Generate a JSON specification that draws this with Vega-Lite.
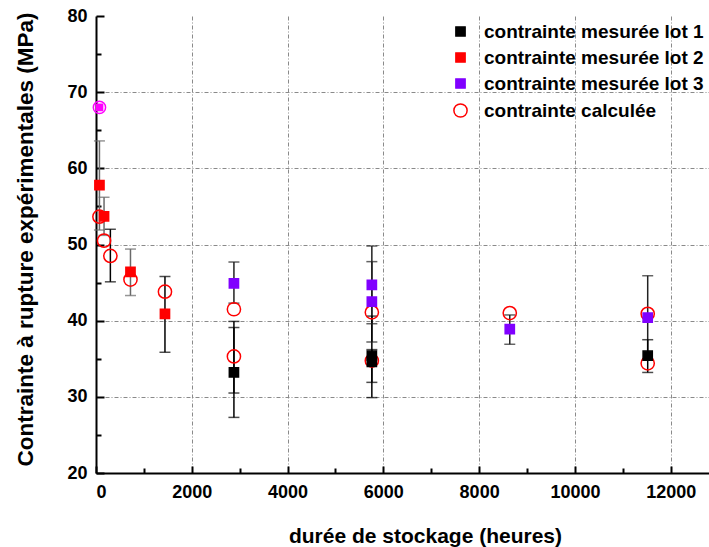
{
  "$schema": "https://vega.github.io/schema/vega-lite/v6.json",
  "width": 613,
  "height": 457,
  "autosize": {"type": "none"},
  "padding": {"left": 96, "top": 16, "right": 0, "bottom": 74},
  "background": "white",
  "config": {
    "view": {"stroke": null},
    "font": "Liberation Sans",
    "legend": {"labelFont": "Liberation Sans", "labelFontWeight": "bold", "labelFontSize": 19, "labelColor": "#000000", "labelOffset": 14, "rowPadding": 6, "symbolStrokeWidth": 1.5, "labelLimit": 400}
  },
  "datasets": {
    "pts": [
      {"t": 72, "v": 53.65, "series": "contrainte calculée"},
      {"t": 168, "v": 50.5, "series": "contrainte calculée"},
      {"t": 300, "v": 48.5, "series": "contrainte calculée"},
      {"t": 720, "v": 45.4, "series": "contrainte calculée"},
      {"t": 1440, "v": 43.8, "series": "contrainte calculée"},
      {"t": 2880, "v": 41.5, "series": "contrainte calculée"},
      {"t": 2880, "v": 35.3, "series": "contrainte calculée"},
      {"t": 5760, "v": 41.1, "series": "contrainte calculée"},
      {"t": 5760, "v": 34.75, "series": "contrainte calculée"},
      {"t": 8640, "v": 41.0, "series": "contrainte calculée"},
      {"t": 11520, "v": 40.9, "series": "contrainte calculée"},
      {"t": 11520, "v": 34.4, "series": "contrainte calculée"},
      {"t": 2880, "v": 33.2, "series": "contrainte mesurée lot 1"},
      {"t": 5760, "v": 35.4, "series": "contrainte mesurée lot 1"},
      {"t": 5760, "v": 34.6, "series": "contrainte mesurée lot 1"},
      {"t": 11520, "v": 35.4, "series": "contrainte mesurée lot 1"},
      {"t": 72, "v": 57.8, "series": "contrainte mesurée lot 2"},
      {"t": 168, "v": 53.7, "series": "contrainte mesurée lot 2"},
      {"t": 720, "v": 46.4, "series": "contrainte mesurée lot 2"},
      {"t": 1440, "v": 40.9, "series": "contrainte mesurée lot 2"},
      {"t": 2880, "v": 44.9, "series": "contrainte mesurée lot 3"},
      {"t": 5760, "v": 44.7, "series": "contrainte mesurée lot 3"},
      {"t": 5760, "v": 42.5, "series": "contrainte mesurée lot 3"},
      {"t": 8640, "v": 38.9, "series": "contrainte mesurée lot 3"},
      {"t": 11520, "v": 40.4, "series": "contrainte mesurée lot 3"}
    ],
    "bars": [
      {"t": 72, "lo": 51.9, "hi": 63.6, "series": "contrainte mesurée lot 2"},
      {"t": 168, "lo": 51.2, "hi": 56.2, "series": "contrainte mesurée lot 2"},
      {"t": 300, "lo": 45.1, "hi": 52.0, "series": "contrainte mesurée lot 1"},
      {"t": 720, "lo": 43.3, "hi": 49.4, "series": "contrainte mesurée lot 2"},
      {"t": 1440, "lo": 35.85, "hi": 45.8, "series": "contrainte mesurée lot 1"},
      {"t": 2880, "lo": 42.3, "hi": 47.7, "series": "contrainte mesurée lot 3"},
      {"t": 2880, "lo": 27.3, "hi": 39.1, "series": "contrainte mesurée lot 1"},
      {"t": 2880, "lo": 30.5, "hi": 39.9, "series": "contrainte mesurée lot 1"},
      {"t": 5760, "lo": 39.6, "hi": 49.8, "series": "contrainte mesurée lot 3"},
      {"t": 5760, "lo": 37.2, "hi": 47.75, "series": "contrainte mesurée lot 3"},
      {"t": 5760, "lo": 29.9, "hi": 40.6, "series": "contrainte mesurée lot 1"},
      {"t": 5760, "lo": 31.9, "hi": 36.2, "series": "contrainte mesurée lot 1"},
      {"t": 8640, "lo": 36.9, "hi": 40.75, "series": "contrainte mesurée lot 3"},
      {"t": 11520, "lo": 35.0, "hi": 45.9, "series": "contrainte mesurée lot 3"},
      {"t": 11520, "lo": 33.2, "hi": 37.5, "series": "contrainte mesurée lot 1"}
    ],
    "t0": [{"t": 72, "v": 68.0}]
  },
  "layer": [
    {
      "data": {"name": "t0"},
      "mark": {"type": "point", "opacity": 0},
      "encoding": {
        "x": {"field": "t", "type": "quantitative", "scale": {"domain": [0, 12800], "nice": false, "zero": false},
          "axis": {"orient": "bottom", "values": [2000, 4000, 6000, 8000, 10000, 12000], "grid": true, "gridColor": "#8a8a8a", "gridDash": [4, 2, 1, 2], "gridWidth": 1, "ticks": false, "labels": false, "domain": false, "title": null}},
        "y": {"field": "v", "type": "quantitative", "scale": {"domain": [20, 80], "nice": false, "zero": false},
          "axis": {"orient": "left", "values": [30, 40, 50, 60, 70], "grid": true, "gridColor": "#8a8a8a", "gridDash": [4, 2, 1, 2], "gridWidth": 1, "ticks": false, "labels": false, "domain": false, "title": null}}
      }
    },
    {
      "data": {"name": "t0"},
      "mark": {"type": "point", "opacity": 0},
      "encoding": {
        "x": {"field": "t", "type": "quantitative",
          "axis": {"orient": "bottom", "values": [1000, 3000, 5000, 7000, 9000, 11000], "grid": false, "ticks": true, "tickSize": -5, "tickWidth": 2, "tickColor": "#000000", "labels": false, "domain": false, "title": null}},
        "y": {"field": "v", "type": "quantitative",
          "axis": {"orient": "left", "values": [25, 35, 45, 55, 65, 75], "grid": false, "ticks": true, "tickSize": -5, "tickWidth": 2, "tickColor": "#000000", "labels": false, "domain": false, "title": null}}
      }
    },
    {
      "data": {"name": "bars"},
      "mark": {"type": "rule", "strokeWidth": 1.5},
      "encoding": {
        "x": {"field": "t", "type": "quantitative",
          "axis": {"orient": "bottom", "values": [0, 2000, 4000, 6000, 8000, 10000, 12000], "format": "d", "grid": false, "tickSize": -7, "tickWidth": 2, "tickColor": "#000000", "domain": true, "domainColor": "#000000", "domainWidth": 2, "labelFont": "Liberation Sans", "labelFontWeight": "bold", "labelFontSize": 18, "labelColor": "#000000", "labelPadding": 17, "title": "durée de stockage (heures)", "titleFont": "Liberation Sans", "titleFontWeight": "bold", "titleFontSize": 21, "titleColor": "#000000", "titlePadding": 24, "titleX": 329}},
        "y": {"field": "lo", "type": "quantitative",
          "axis": {"orient": "left", "values": [20, 30, 40, 50, 60, 70, 80], "grid": false, "tickSize": -8, "tickWidth": 2, "tickColor": "#000000", "domain": true, "domainColor": "#000000", "domainWidth": 2, "labelFont": "Liberation Sans", "labelFontWeight": "bold", "labelFontSize": 18, "labelColor": "#000000", "labelPadding": 17, "title": "Contrainte à rupture expérimentales (MPa)", "titleFont": "Liberation Sans", "titleFontWeight": "bold", "titleFontSize": 22.5, "titleColor": "#000000", "titlePadding": 29, "titleY": 223}},
        "y2": {"field": "hi"},
        "color": {"field": "series", "type": "nominal", "legend": null,
          "scale": {"domain": ["contrainte mesurée lot 1", "contrainte mesurée lot 2", "contrainte mesurée lot 3"], "range": ["#000000", "#6a6a6a", "#222222"]}}
      }
    },
    {
      "data": {"name": "bars"},
      "transform": [{"fold": ["lo", "hi"], "as": ["end", "val"]}],
      "mark": {"type": "tick", "orient": "horizontal", "size": 11, "thickness": 1.5},
      "encoding": {
        "x": {"field": "t", "type": "quantitative", "axis": null},
        "y": {"field": "val", "type": "quantitative", "axis": null},
        "color": {"field": "series", "type": "nominal", "legend": null}
      }
    },
    {
      "data": {"name": "t0"},
      "mark": {"type": "point", "shape": "circle", "filled": false, "stroke": "#ff00ff", "strokeWidth": 1.5, "size": 150, "opacity": 1},
      "encoding": {
        "x": {"field": "t", "type": "quantitative", "axis": null},
        "y": {"field": "v", "type": "quantitative", "axis": null}
      }
    },
    {
      "data": {"name": "t0"},
      "mark": {"type": "point", "shape": "square", "filled": true, "fill": "#ff00ff", "size": 60, "opacity": 1},
      "encoding": {
        "x": {"field": "t", "type": "quantitative", "axis": null},
        "y": {"field": "v", "type": "quantitative", "axis": null}
      }
    },
    {
      "data": {"name": "pts"},
      "mark": {"type": "point", "filled": true, "strokeWidth": 1.5, "opacity": 1},
      "encoding": {
        "x": {"field": "t", "type": "quantitative", "axis": null},
        "y": {"field": "v", "type": "quantitative", "axis": null},
        "shape": {"field": "series", "type": "nominal",
          "scale": {"domain": ["contrainte mesurée lot 1", "contrainte mesurée lot 2", "contrainte mesurée lot 3", "contrainte calculée"], "range": ["square", "square", "square", "circle"]},
          "legend": {"orient": "none", "legendX": 355, "legendY": 6, "title": null, "labelFontSize": 19, "labelFontWeight": "bold", "labelOffset": 14}},
        "fill": {"field": "series", "type": "nominal",
          "scale": {"domain": ["contrainte mesurée lot 1", "contrainte mesurée lot 2", "contrainte mesurée lot 3", "contrainte calculée"], "range": ["#000000", "#ff0000", "#8000ff", "transparent"]}},
        "stroke": {"field": "series", "type": "nominal",
          "scale": {"domain": ["contrainte mesurée lot 1", "contrainte mesurée lot 2", "contrainte mesurée lot 3", "contrainte calculée"], "range": ["#000000", "#ff0000", "#8000ff", "#ff0000"]}},
        "size": {"field": "series", "type": "nominal",
          "scale": {"type": "ordinal", "domain": ["contrainte mesurée lot 1", "contrainte mesurée lot 2", "contrainte mesurée lot 3", "contrainte calculée"], "range": [85, 85, 85, 175]}}
      }
    },
    {
      "mark": {"type": "rule", "stroke": "#ff00ff", "strokeWidth": 1},
      "encoding": {
        "x": {"datum": 1217, "type": "quantitative", "axis": null},
        "y": {"datum": 73.57, "type": "quantitative", "axis": null},
        "x2": {"datum": 300},
        "y2": {"datum": 69.2}
      }
    },
    {
      "mark": {"type": "point", "shape": "triangle", "filled": true, "fill": "#ff00ff", "strokeWidth": 0, "size": 55, "angle": 233, "opacity": 1},
      "encoding": {
        "x": {"datum": 310, "type": "quantitative", "axis": null},
        "y": {"datum": 69.3, "type": "quantitative", "axis": null}
      }
    },
    {
      "mark": {"type": "text", "text": "contrainte à t", "color": "#ff00ff", "font": "Liberation Sans", "fontSize": 17, "align": "left", "baseline": "alphabetic"},
      "encoding": {
        "x": {"datum": 1065, "type": "quantitative", "axis": null},
        "y": {"datum": 74.66, "type": "quantitative", "axis": null}
      }
    },
    {
      "mark": {"type": "text", "text": "o", "color": "#ff00ff", "font": "Liberation Sans", "fontSize": 12, "align": "left", "baseline": "alphabetic"},
      "encoding": {
        "x": {"datum": 3270, "type": "quantitative", "axis": null},
        "y": {"datum": 73.87, "type": "quantitative", "axis": null}
      }
    }
  ],
  "resolve": {"axis": {"x": "independent", "y": "independent"}}
}
